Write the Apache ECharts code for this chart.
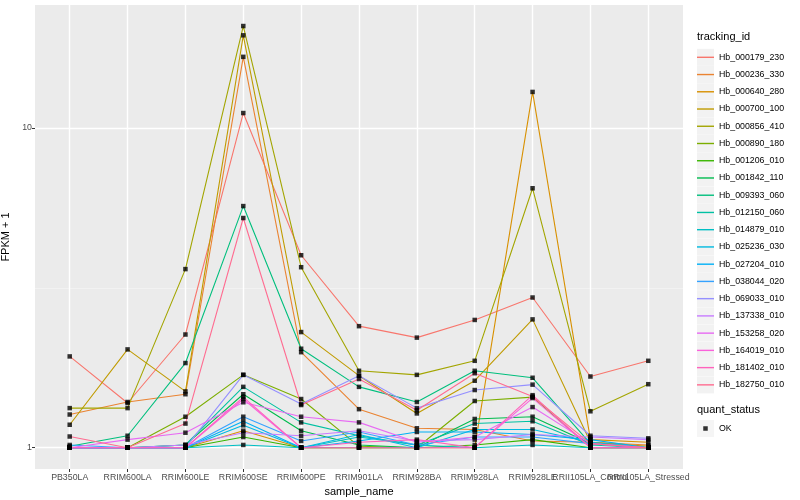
<!DOCTYPE html>
<html><head><meta charset="utf-8">
<script src="https://cdn.jsdelivr.net/npm/echarts@6/dist/echarts.min.js"></script>
<style>html,body{margin:0;padding:0;background:#fff}#c{width:800px;height:500px}</style>
</head><body><div id="c"></div>
<script>
const categories = ["PB350LA","RRIM600LA","RRIM600LE","RRIM600SE","RRIM600PE","RRIM901LA","RRIM928BA","RRIM928LA","RRIM928LE","RRII105LA_Control","RRII105LA_Stressed"];
const trackingIds = ["Hb_000179_230","Hb_000236_330","Hb_000640_280","Hb_000700_100","Hb_000856_410","Hb_000890_180","Hb_001206_010","Hb_001842_110","Hb_009393_060","Hb_012150_060","Hb_014879_010","Hb_025236_030","Hb_027204_010","Hb_038044_020","Hb_069033_010","Hb_137338_010","Hb_153258_020","Hb_164019_010","Hb_181402_010","Hb_182750_010"];
const colors = ["#F8766D","#EA8331","#D89000","#C09B00","#A3A500","#7CAE00","#39B600","#00BB4E","#00BF7D","#00C1A3","#00BFC4","#00BAE0","#00B0F6","#35A2FF","#9590FF","#C77CFF","#E76BF3","#FA62DB","#FF62BC","#FF6C91"];
const yTicks = [1, 10];
const yMinorTicks = [3.1623];

const hb000179_230 = [1.93, 1.38, 2.26, 11.14, 4.00, 2.40, 2.21, 2.51, 2.95, 1.67, 1.87];
const hb000236_330 = [1.27, 1.39, 1.47, 16.7, 1.99, 1.32, 1.15, 1.14, 1.05, 1.04, 1.02];
const hb000640_280 = [1.00, 1.00, 1.00, 1.13, 1.00, 1.00, 1.00, 1.00, 12.97, 1.06, 1.04];
const hb000700_100 = [1.18, 2.03, 1.50, 19.5, 2.30, 1.68, 1.28, 1.62, 2.52, 1.04, 1.01];
const hb000856_410 = [1.33, 1.33, 3.62, 20.85, 3.67, 1.74, 1.69, 1.87, 6.48, 1.30, 1.58];
const hb000890_180 = [1.00, 1.00, 1.25, 1.69, 1.42, 1.01, 1.00, 1.40, 1.44, 1.00, 1.00];
const hb001206_010 = [1.00, 1.00, 1.00, 1.08, 1.00, 1.00, 1.00, 1.02, 1.06, 1.00, 1.00];
const hb001842_110 = [1.00, 1.00, 1.02, 1.47, 1.13, 1.02, 1.00, 1.23, 1.25, 1.03, 1.00];
const hb009393_060 = [1.01, 1.09, 1.84, 5.70, 2.04, 1.55, 1.39, 1.74, 1.655, 1.03, 1.00];
const hb012150_060 = [1.00, 1.00, 1.02, 1.55, 1.20, 1.09, 1.02, 1.19, 1.21, 1.02, 1.00];
const hb014879_010 = [1.00, 1.00, 1.00, 1.02, 1.00, 1.08, 1.02, 1.00, 1.02, 1.00, 1.00];
const hb025236_030 = [1.00, 1.00, 1.00, 1.175, 1.00, 1.10, 1.00, 1.14, 1.14, 1.04, 1.00];
const hb027204_010 = [1.00, 1.00, 1.00, 1.21, 1.00, 1.05, 1.12, 1.12, 1.10, 1.06, 1.00];
const hb038044_020 = [1.02, 1.00, 1.00, 1.25, 1.05, 1.12, 1.02, 1.08, 1.08, 1.03, 1.00];
const hb069033_010 = [1.00, 1.00, 1.00, 1.69, 1.37, 1.68, 1.33, 1.515, 1.575, 1.09, 1.07];
const hb137338_010 = [1.00, 1.00, 1.02, 1.114, 1.09, 1.13, 1.05, 1.06, 1.10, 1.08, 1.06];
const hb153258_020 = [1.00, 1.06, 1.114, 1.387, 1.25, 1.20, 1.04, 1.08, 1.34, 1.03, 1.00];
const hb164019_010 = [1.00, 1.00, 1.00, 1.42, 1.00, 1.00, 1.00, 1.00, 1.43, 1.00, 1.00];
const hb181402_010 = [1.00, 1.00, 1.00, 1.44, 1.00, 1.04, 1.06, 1.00, 1.46, 1.00, 1.00];
const hb182750_010 = [1.084, 1.00, 1.19, 5.23, 1.36, 1.64, 1.31, 1.71, 1.445, 1.03, 1.00];

const seriesValues = [hb000179_230, hb000236_330, hb000640_280, hb000700_100, hb000856_410, hb000890_180, hb001206_010, hb001842_110, hb009393_060, hb012150_060, hb014879_010, hb025236_030, hb027204_010, hb038044_020, hb069033_010, hb137338_010, hb153258_020, hb164019_010, hb181402_010, hb182750_010];

const FONT = '"Liberation Sans", Arial, Helvetica, sans-serif';
const catIdx = categories.map((c, i) => i);
// labels split over two axes so overlapping neighbours are both drawn
const labelIdxA = catIdx.filter(i => i % 2 === 0);
const labelIdxB = catIdx.filter(i => i % 2 === 1);

const lineSeries = trackingIds.map((id, k) => ({
  type: 'line', name: id, xAxisIndex: 0, yAxisIndex: 0,
  data: seriesValues[k].map((v, i) => [i, v]),
  symbol: 'none', showSymbol: false,
  lineStyle: { color: colors[k], width: 1.1 },
  itemStyle: { color: colors[k] },
  z: 2, silent: true, animation: false
}));
const points = [];
seriesValues.forEach(vals => vals.forEach((v, i) => points.push([i, v])));
const okSeries = {
  type: 'scatter', name: 'OK', data: points, xAxisIndex: 0, yAxisIndex: 0,
  symbol: 'rect', symbolSize: 4.5, itemStyle: { color: '#000' },
  z: 3, silent: true, animation: false
};

const yMin = 0.8578, yMax = 24.26;
const labelStyle = { color: '#4D4D4D', fontSize: 8.8, margin: 4, fontFamily: FONT, hideOverlap: false };

const chart = echarts.init(document.getElementById('c'));
chart.setOption({
  animation: false,
  backgroundColor: '#fff',
  textStyle: { fontFamily: FONT },
  grid: { left: 35, right: 117, top: 5, bottom: 31, show: true, backgroundColor: '#EBEBEB', borderWidth: 0, containLabel: false, outerBoundsMode: 'none' },
  title: [
    { text: 'tracking_id', left: 697, top: 31, padding: 0, textStyle: { fontSize: 11, fontWeight: 'normal', color: '#000', fontFamily: FONT } },
    { text: 'quant_status', left: 697, top: 404, padding: 0, textStyle: { fontSize: 11, fontWeight: 'normal', color: '#000', fontFamily: FONT } }
  ],
  legend: [
    { data: trackingIds, orient: 'vertical', left: 697, top: 48.8, padding: 0, itemWidth: 17, itemHeight: 17, itemGap: 0.24, icon: 'rect', selectedMode: false,
      itemStyle: { color: '#F2F2F2', borderWidth: 0 }, textStyle: { color: 'rgba(0,0,0,0)', fontSize: 8.8, lineHeight: 17, fontFamily: FONT } },
    { data: trackingIds, orient: 'vertical', left: 697, top: 48.8, padding: 0, itemWidth: 17, itemHeight: 1.4, itemGap: 0.24, icon: 'rect', selectedMode: false,
      textStyle: { color: '#000', fontSize: 8.8, lineHeight: 17, fontFamily: FONT } },
    { data: ['OK'], orient: 'vertical', left: 697, top: 420, padding: 0, itemWidth: 17, itemHeight: 17, icon: 'rect', selectedMode: false,
      itemStyle: { color: '#F2F2F2', borderWidth: 0 }, textStyle: { color: 'rgba(0,0,0,0)', fontSize: 8.8, lineHeight: 17, fontFamily: FONT } },
    { data: ['OK'], orient: 'vertical', left: 703.25, top: 420, padding: 0, itemWidth: 4.5, itemHeight: 4.5, icon: 'rect', selectedMode: false,
      textStyle: { color: '#000', fontSize: 8.8, lineHeight: 17, padding: [0, 0, 0, 6.25], fontFamily: FONT } }
  ],
  xAxis: [
    {
      type: 'value', min: -0.6, max: 10.6, position: 'bottom',
      name: 'sample_name', nameLocation: 'middle', nameGap: 13,
      nameTextStyle: { fontSize: 11, color: '#000', fontFamily: FONT, verticalAlign: 'top' },
      axisLine: { show: false, onZero: false },
      axisTick: { show: true, length: 3, customValues: catIdx, lineStyle: { color: '#333333', width: 1 } },
      axisLabel: Object.assign({ customValues: labelIdxA, formatter: v => categories[Math.round(v)] }, labelStyle),
      splitLine: { show: true, lineStyle: { color: '#FFFFFF', width: 1.4 } }
    },
    {
      type: 'value', min: -0.6, max: 10.6, position: 'bottom', offset: 0,
      axisLine: { show: false, onZero: false },
      axisTick: { show: false, customValues: labelIdxB },
      axisLabel: Object.assign({ customValues: labelIdxB, formatter: v => categories[Math.round(v)] }, labelStyle),
      splitLine: { show: false }
    }
  ],
  yAxis: [
    {
      type: 'log', logBase: 10, min: yMin, max: yMax,
      name: 'FPKM + 1', nameLocation: 'middle', nameGap: 18,
      nameTextStyle: { fontSize: 11, color: '#000', fontFamily: FONT },
      axisLine: { show: false, onZero: false },
      axisTick: { show: true, length: 3, customValues: yTicks, lineStyle: { color: '#333333', width: 1 } },
      axisLabel: { customValues: yTicks, hideOverlap: false, color: '#4D4D4D', fontSize: 8.8, margin: 3, fontFamily: FONT },
      splitLine: { show: true, lineStyle: { color: '#FFFFFF', width: 1.4 } }
    },
    {
      type: 'log', logBase: 10, min: yMin, max: yMax, position: 'left',
      axisLine: { show: false, onZero: false },
      axisTick: { show: false, customValues: yMinorTicks },
      axisLabel: { show: false, customValues: yMinorTicks },
      splitLine: { show: true, lineStyle: { color: '#F5F5F5', width: 0.7 } }
    }
  ],
  series: lineSeries.concat([okSeries])
});
</script>
</body></html>
